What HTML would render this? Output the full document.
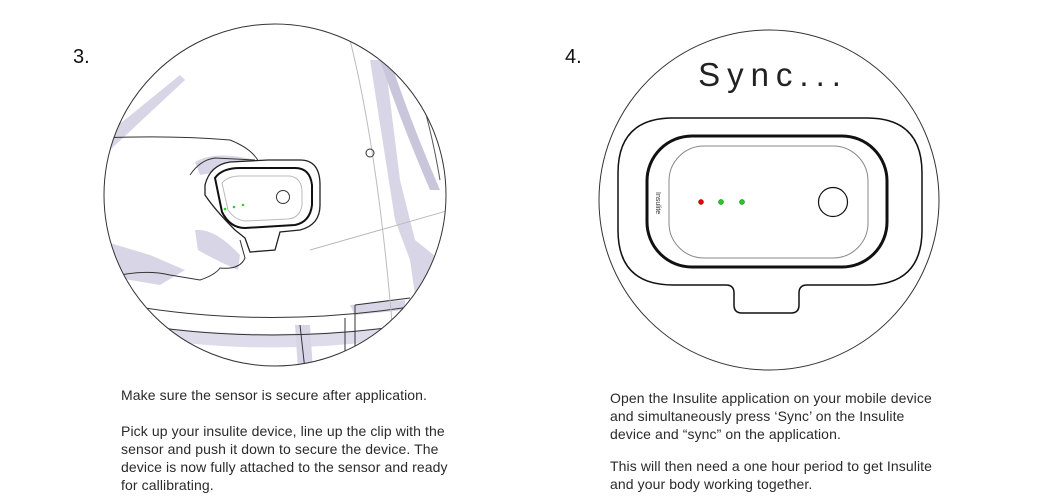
<!DOCTYPE html>
<html><head><meta charset="utf-8"><style>
html,body{margin:0;padding:0;background:#fff;width:1040px;height:500px;overflow:hidden;font-family:"Liberation Sans",sans-serif;color:#222}
.t{position:absolute;font-size:14px;line-height:18px;color:#2a2a2a;white-space:nowrap;letter-spacing:0.1px}
.n{position:absolute;font-size:20px;color:#111}
</style></head><body>
<div class="n" style="left:73px;top:46px">3.</div>
<div class="n" style="left:565px;top:46px">4.</div>
<svg width="1040" height="500" style="position:absolute;left:0;top:0">
<defs><clipPath id="c1"><circle cx="275" cy="195" r="171"/></clipPath></defs>
<g clip-path="url(#c1)">
<path d="M370 60 L385 60 L400 180 L415 240 L440 260 L445 330 L420 330 L410 260 L395 220 Z" fill="#d8d6e6"/>
<path d="M380 60 Q400 120 430 190 L440 190 Q410 120 390 60Z" fill="#c9c6dc"/>
<path d="M100 140 L180 75 L185 80 L110 150Z" fill="#d8d6e6"/>
<path d="M100 240 L150 255 L185 270 L160 285 L100 275Z" fill="#d8d6e6"/>
<path d="M100 318 Q270 350 450 318 L450 330 Q270 365 100 330Z" fill="#dedcea"/>
<path d="M295 325 L310 325 L313 370 L298 370Z" fill="#d8d6e6"/>
<path d="M350 305 L405 300 L405 310 L355 315Z" fill="#d8d6e6"/>
<path d="M195 162 Q215 150 255 160 L255 175 Q225 170 200 175Z" fill="#d8d6e6"/>
<path d="M195 230 Q215 228 240 255 L238 270 Q215 260 198 250Z" fill="#d8d6e6"/>
<g fill="none" stroke="#333" stroke-width="1">
<path d="M100 138 Q170 135 230 140 Q255 150 260 165 L255 170"/>
<path d="M100 280 Q140 268 170 275 L200 280 Q215 275 220 268 Q240 270 245 258 L240 240"/>
<path d="M100 300 Q270 335 450 300"/>
<path d="M100 318 Q270 352 450 318"/>
<path d="M300 325 L305 370 M345 318 L345 370 M355 305 L355 370 M355 305 L410 298"/>
<path d="M410 60 Q430 120 440 180" stroke="#555"/>
<path d="M190 175 Q200 160 215 158 L255 160"/>
</g>
<path d="M350 40 Q380 160 395 360" fill="none" stroke="#bbb" stroke-width="1"/>
<path d="M310 250 Q380 230 450 210" fill="none" stroke="#bbb" stroke-width="1"/>
<circle cx="370" cy="153" r="4" fill="none" stroke="#333"/>
<path d="M268 160 L300 160 Q320 160 320 185 L320 205 Q320 225 300 230 L280 232 L275 250 L250 252 L245 238 L235 230 Q215 210 205 195 L205 185 Q210 165 230 162Z" fill="#fff" stroke="#222" stroke-width="1.3"/>
<path d="M215 178 Q222 168 240 168 L295 168 Q310 168 312 185 L312 205 Q310 222 295 225 L245 228 Q230 228 222 212 Z" fill="#fff" stroke="#111" stroke-width="2"/>
<path d="M222 183 Q228 176 240 176 L290 176 Q302 178 302 192 L302 205 Q300 218 288 219 L245 221 Q235 220 228 210Z" fill="#fff" stroke="#bbb" stroke-width="1"/>
<circle cx="283" cy="197" r="6.5" fill="none" stroke="#333"/>
<circle cx="225" cy="209" r="1.3" fill="#3c3"/><circle cx="234" cy="207" r="1.3" fill="#3c3"/><circle cx="243" cy="205" r="1.3" fill="#3c3"/>
</g>
<circle cx="275" cy="195" r="171" fill="none" stroke="#333" stroke-width="1"/>

<circle cx="769" cy="200" r="170" fill="none" stroke="#333" stroke-width="1"/>
<text x="773" y="86" text-anchor="middle" font-family="Liberation Sans, sans-serif" font-size="33" letter-spacing="7" fill="#222">Sync...</text>
<path d="M673 118 L867 118 Q922 118 922 173 L922 230 Q922 285 867 285 L807 285 Q799 285 799 293 L799 305 Q799 313 791 313 L742 313 Q734 313 734 305 L734 293 Q734 285 726 285 L673 285 Q618 285 618 230 L618 173 Q618 118 673 118Z" fill="none" stroke="#111" stroke-width="1.5"/>
<rect x="647" y="136" width="240" height="131" rx="45" fill="none" stroke="#111" stroke-width="3"/>
<rect x="669" y="146" width="199" height="112" rx="35" fill="none" stroke="#888" stroke-width="1"/>
<circle cx="701" cy="202" r="2.5" fill="#e00" stroke="#600" stroke-width=".5"/>
<circle cx="721" cy="202" r="2.5" fill="#2c2" stroke="#060" stroke-width=".5"/>
<circle cx="742" cy="202" r="2.5" fill="#2c2" stroke="#060" stroke-width=".5"/>
<circle cx="833" cy="202" r="14.5" fill="none" stroke="#111" stroke-width="1.2"/>
<text x="0" y="0" transform="translate(656,192) rotate(90)" font-size="7" font-family="Liberation Sans, sans-serif" fill="#333">Insulite</text>
</svg>
<div class="t" style="left:121px;top:386px">Make sure the sensor is secure after application.</div>
<div class="t" style="left:121px;top:422px">Pick up your insulite device, line up the clip with the<br>sensor and push it down to secure the device. The<br>device is now fully attached to the sensor and ready<br>for callibrating.</div>
<div class="t" style="left:610px;top:389px">Open the Insulite application on your mobile device<br>and simultaneously press ‘Sync’ on the Insulite<br>device and “sync” on the application.</div>
<div class="t" style="left:610px;top:457px">This will then need a one hour period to get Insulite<br>and your body working together.</div>
</body></html>
